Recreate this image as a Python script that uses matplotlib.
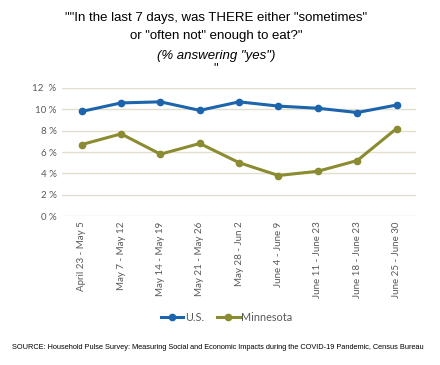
import matplotlib
matplotlib.use("Agg")
import matplotlib.pyplot as plt

categories = ["April 23 - May 5", "May 7 - May 12", "May 14 - May 19", "May 21 - May 26",
              "May 28 - Jun 2", "June 4 - June 9", "June 11 - June 23", "June 18 - June 23",
              "June 25 - June 30"]
us = [9.8, 10.6, 10.7, 9.9, 10.7, 10.3, 10.1, 9.7, 10.4]
mn = [6.7, 7.7, 5.8, 6.8, 5.0, 3.8, 4.2, 5.2, 8.2]
yticks = [0, 2, 4, 6, 8, 10, 12]
ytick_labels = ["0 %", "2 %", "4 %", "6 %", "8 %", "10 %", "12  %"]

fig = plt.figure(figsize=(4.4, 3.65), dpi=100)
ax = fig.add_axes([0.141, 0.408, 0.805, 0.351])

x = list(range(len(categories)))
ax.plot(x, us, color="#1c64ab", lw=2.2, marker="o", ms=4.5, label="U.S.")
ax.plot(x, mn, color="#8b8b31", lw=2.2, marker="o", ms=4.5, label="Minnesota")

ax.set_xlim(-0.5, len(categories) - 0.5)
ax.set_ylim(0, 12)
ax.set_yticks(yticks)
ax.set_yticklabels(ytick_labels, fontsize=7, color="#595959", family="Lato")
ax.set_xticks(x)
ax.set_xticklabels(categories, rotation=90, fontsize=7, color="#595959", family="Lato")
ax.tick_params(length=0, pad=4)
ax.grid(axis="y", color="#e3dfcf", lw=1)
ax.set_axisbelow(True)
for s in ax.spines.values():
    s.set_visible(False)

tkw = dict(ha="center", va="center", fontsize=9.5, family="Liberation Sans")
fig.text(0.492, 0.951, "\"\"In the last 7 days, was THERE either \"sometimes\"", **tkw)
fig.text(0.492, 0.901, "or \"often not\" enough to eat?\"", **tkw)
fig.text(0.492, 0.847, "(% answering \"yes\")", style="italic", **tkw)
fig.text(0.490, 0.812, "\"", **tkw)

fig.legend(loc="center", bbox_to_anchor=(0.515, 0.131), ncol=2, frameon=False,
           prop={"family": "Lato", "size": 7.8}, handlelength=2.1, handletextpad=0.15,
           columnspacing=1.2, labelcolor="#595959")

fig.text(0.495, 0.047, "SOURCE: Household Pulse Survey: Measuring Social and Economic Impacts during the COVID-19 Pandemic, Census Bureau",
         ha="center", va="center", fontsize=5.35, family="Liberation Sans")

fig.savefig("out.png", dpi=100)
